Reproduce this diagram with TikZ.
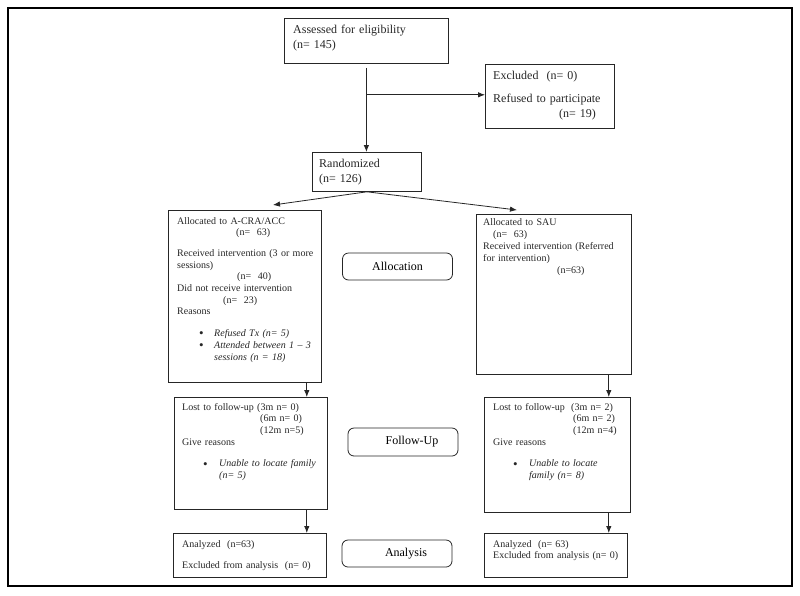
\documentclass[tikz,border=0pt]{standalone}
\usepackage{fontspec}
\setmainfont{Liberation Serif}
\usetikzlibrary{arrows.meta,calc}
\newcommand{\blt}{\raisebox{-1.2pt}{\fontsize{13}{13}\selectfont\textbullet}}

\begin{document}
\begin{tikzpicture}[x=1pt,y=-1pt,
  box/.style={draw=black!85,line width=0.8pt,anchor=north west,inner sep=0pt},
  stage/.style={draw=black!85,line width=0.8pt,rounded corners=6pt,minimum width=110pt,minimum height=27pt,inner sep=0pt,font=\fontsize{12}{14}\selectfont},
  big/.style={anchor=base west,inner sep=0pt,text width=160pt,align=left,text=black!85,font=\fontsize{12}{15}\selectfont},
  small/.style={anchor=base west,inner sep=0pt,text width=160pt,align=left,text=black!85,font=\fontsize{10}{11.7}\selectfont},
  arr/.style={draw=black!85,line width=0.8pt,-{Latex[length=7pt,width=5.5pt]}}]
\useasboundingbox (0,0) rectangle (800,595);
\draw[line width=2.5pt] (8,8) rectangle (792,586);

% boxes
\node[box,minimum width=164pt,minimum height=45pt] (assess) at (284,18) {};
\node[box,minimum width=129pt,minimum height=64pt] (excl) at (485,64) {};
\node[box,minimum width=109pt,minimum height=39pt] (rand) at (312,152) {};
\node[box,minimum width=153pt,minimum height=172pt] (allocA) at (168,210) {};
\node[box,minimum width=155pt,minimum height=160pt] (allocS) at (476,214) {};
\node[box,minimum width=153pt,minimum height=112pt] (fuA) at (174,397) {};
\node[box,minimum width=146pt,minimum height=115pt] (fuS) at (484,397) {};
\node[box,minimum width=153pt,minimum height=44pt] (anA) at (173,533) {};
\node[box,minimum width=143pt,minimum height=44pt] (anS) at (484,533) {};

\node[stage] (allocation) at (397.5,266.5) {Allocation};
\node[stage,minimum height=28pt] (followup) at (403,442) {\hspace*{18pt}Follow-Up};
\node[stage] (analysis) at (397,553.5) {\hspace*{18pt}Analysis};

% texts
\node[big] (assess-t) at (293,33) {Assessed for eligibility\\(n= 145)};
\node[big] (excl-t) at (493,79) {Excluded~ (n= 0)\\[8pt]Refused to participate\\\hspace*{66pt}(n= 19)};
\node[big] (rand-t) at (319,167) {Randomized\\(n= 126)};
\node[small] (allocA-t) at (177,224) {Allocated to A-CRA/ACC\\
  \hspace*{59pt}(n=~ 63)\\[9pt]
  Received intervention (3 or more\\
  sessions)\\
  \hspace*{60pt}(n=~ 40)\\
  Did not receive intervention\\
  \hspace*{46pt}(n=~ 23)\\
  Reasons\\[10pt]
  \hspace*{22pt}\makebox[15pt][l]{\blt}\textit{Refused Tx (n= 5)}\\
  \hspace*{22pt}\makebox[15pt][l]{\blt}\textit{Attended between 1 -- 3}\\
  \hspace*{37pt}\textit{sessions (n = 18)}};
\node[small,font=\fontsize{10}{12.2}\selectfont] (allocS-t) at (483,225) {Allocated to SAU\\
  \hspace*{10pt}(n=~ 63)\\
  Received intervention (Referred\\
  for intervention)\\
  \hspace*{74pt}(n=63)};
\node[small] (fuA-t) at (182,410) {\makebox[75pt][l]{Lost to follow-up}(3m n= 0)\\
  \hspace*{78pt}(6m n= 0)\\
  \hspace*{78pt}(12m n=5)\\
  Give reasons\\[10pt]
  \hspace*{21pt}\makebox[16pt][l]{\blt}\textit{Unable to locate family}\\
  \hspace*{37pt}\textit{(n= 5)}};
\node[small] (fuS-t) at (493,410) {\makebox[78pt][l]{Lost to follow-up}(3m n= 2)\\
  \hspace*{80pt}(6m n= 2)\\
  \hspace*{80pt}(12m n=4)\\
  Give reasons\\[10pt]
  \hspace*{20pt}\makebox[16pt][l]{\blt}\textit{Unable to locate}\\
  \hspace*{36pt}\textit{family (n= 8)}};
\node[small] (anA-t) at (182,547) {Analyzed~ (n=63)\\[9.3pt]Excluded from analysis~ (n= 0)};
\node[small] (anS-t) at (493,547) {Analyzed~ (n= 63)\\Excluded from analysis (n= 0)};

% connectors
\coordinate (split) at ($(assess.south)+(0,31)$);
\coordinate (toA) at (273,205);
\coordinate (toS) at (517,210);
\coordinate (dA) at ([xshift=-15pt]allocA.south east);
\coordinate (dS) at ([xshift=-23pt]allocS.south east);
\draw[arr] ([yshift=-4pt]assess.south) -- (assess.south |- rand.north);
\draw[arr] (split) -- (split -| excl.west);
\draw[arr] (rand.south) -- (toA);
\draw[arr] (rand.south) -- (toS);
\draw[arr] (dA) -- (dA |- fuA.north);
\draw[arr] (fuA.south -| dA) -- (anA.north -| dA);
\draw[arr] (dS) -- (dS |- fuS.north);
\draw[arr] (fuS.south -| dS) -- (anS.north -| dS);
\end{tikzpicture}
\end{document}
